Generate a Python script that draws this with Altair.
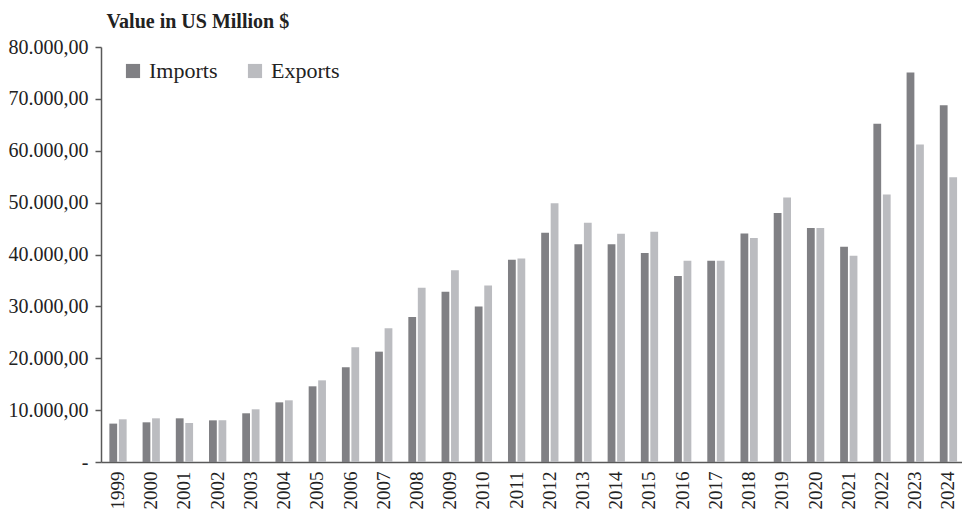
import altair as alt
import pandas as pd

years = [str(y) for y in range(1999, 2025)]
imports = [7400, 7650, 8420, 8030, 9390, 11500, 14590, 18250, 21270, 27950,
           32830, 30000, 39000, 44200, 42000, 42000, 40270, 35840, 38800, 44070,
           47980, 45090, 41500, 65200, 75100, 68790]
exports = [8230, 8420, 7520, 8050, 10160, 11890, 15740, 22110, 25760, 33600,
           36940, 34040, 39250, 49900, 46130, 44010, 44390, 38800, 38800, 43170,
           51000, 45090, 39770, 51580, 61220, 54870]
series = ["Imports", "Exports"]
colors = ["#808084", "#bbbcc0"]
y_ticks = [0, 10000, 20000, 30000, 40000, 50000, 60000, 70000, 80000]

rows = []
for i, y in enumerate(years):
    rows.append({"year": y, "series": "Imports", "value": imports[i]})
    rows.append({"year": y, "series": "Exports", "value": exports[i]})
df = pd.DataFrame(rows)

FONT = "Liberation Serif"

chart = alt.Chart(df).mark_bar().encode(
    x=alt.X("year:N", sort=years,
            scale=alt.Scale(paddingInner=0.48, paddingOuter=0.2, align=0.63),
            axis=alt.Axis(title=None, labelAngle=-90, ticks=False, tickSize=0,
                          labelPadding=9, labelFontSize=19, labelFont=FONT,
                          labelColor="#222222", domainColor="#595959",
                          domainWidth=1.5)),
    xOffset=alt.XOffset("series:N", sort=series,
                        scale=alt.Scale(paddingInner=0.18, paddingOuter=0)),
    y=alt.Y("value:Q", scale=alt.Scale(domain=[0, 80000], nice=False),
            axis=alt.Axis(values=y_ticks, grid=False, tickSize=6,
                          tickColor="#595959", tickWidth=1.5,
                          domainColor="#595959", domainWidth=1.5,
                          labelPadding=7, labelFontSize=20, labelFont=FONT,
                          labelColor="#222222",
                          labelExpr="datum.value == 0 ? '-' : format(datum.value/1000, 'd') + '.000,00'",
                          title="Value in US Million $", titleAngle=0,
                          titleAlign="left", titleBaseline="alphabetic",
                          titleX=5, titleY=-20, titleFont=FONT,
                          titleFontSize=20, titleFontWeight="bold",
                          titleColor="#222222")),
    color=alt.Color("series:N", sort=series,
                    scale=alt.Scale(domain=series, range=colors),
                    legend=alt.Legend(title=None, orient="none", legendX=21,
                                      legendY=13, direction="horizontal",
                                      symbolType="square", symbolSize=200,
                                      symbolStrokeWidth=0, labelFont=FONT,
                                      labelFontSize=22, labelColor="#222222",
                                      labelOffset=5, columnPadding=26,
                                      padding=0)),
).properties(
    width=861, height=415,
    autosize="none",
    padding={"left": 101, "top": 47, "right": 0, "bottom": 48},
).configure_view(stroke="transparent")

chart.save("out.html", embed_options={"renderer": "svg", "actions": False})
